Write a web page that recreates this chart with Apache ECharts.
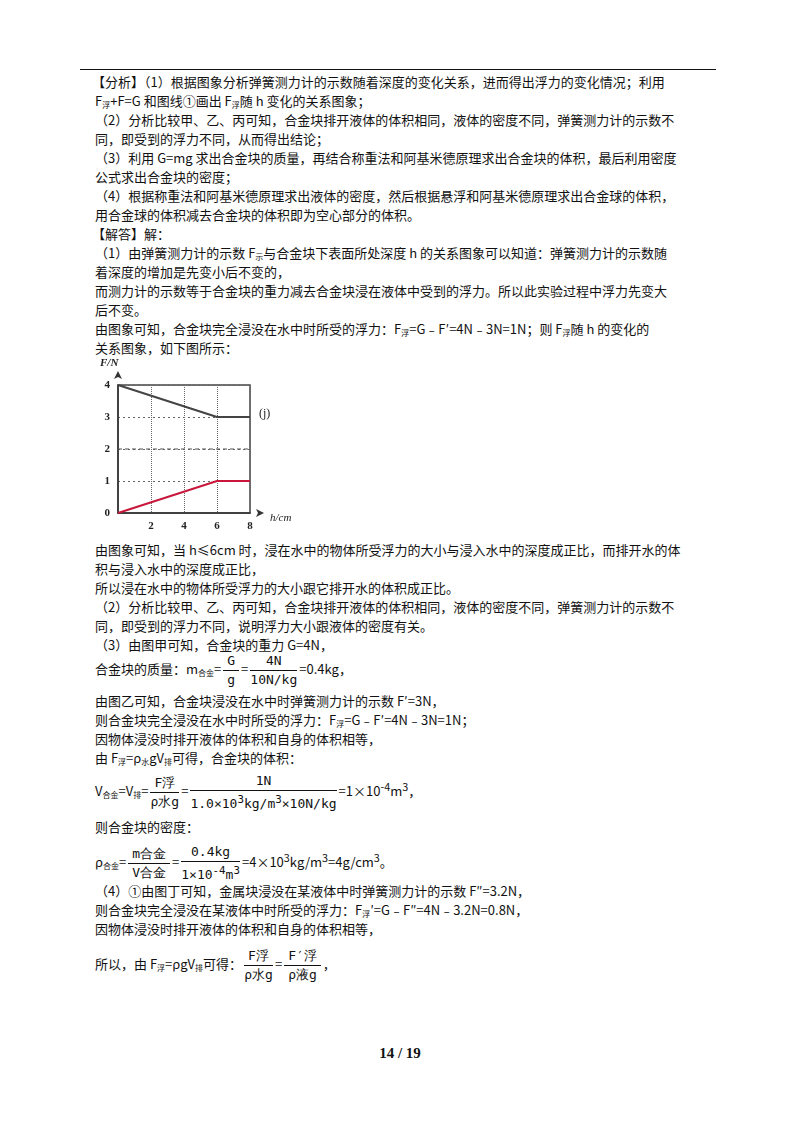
<!DOCTYPE html>
<html><head><meta charset="utf-8">
<script src="https://cdn.jsdelivr.net/npm/echarts@6/dist/echarts.min.js"></script>
<style>
body{margin:0;background:#fff;width:800px;height:1132px;position:relative;font-family:"Noto Sans CJK SC","Liberation Serif",serif;color:#111;}
.l{position:absolute;left:95px;font-size:13px;line-height:19px;white-space:nowrap;}
sub{font-size:8px;vertical-align:-2px;}
.f{display:inline-block;vertical-align:middle;text-align:center;margin:0 2px;}
.f .n{display:block;border-bottom:1px solid #111;padding:0 4px;line-height:18px;}
.f .d{display:block;line-height:18px;}
.mono{font-family:"DejaVu Sans Mono","Liberation Mono",monospace;font-size:13px;}
</style></head><body>
<div style="position:absolute;left:80px;top:69px;width:636px;border-top:1.5px solid #111"></div>
<div class="l" style="top:72px;left:92px">【分析】（1）根据图象分析弹簧测力计的示数随着深度的变化关系，进而得出浮力的变化情况；利用</div>
<div class="l" style="top:91px">F<sub>浮</sub>+F=G 和图线①画出 F<sub>浮</sub>随 h 变化的关系图象；</div>
<div class="l" style="top:110px">（2）分析比较甲、乙、丙可知，合金块排开液体的体积相同，液体的密度不同，弹簧测力计的示数不</div>
<div class="l" style="top:129px">同，即受到的浮力不同，从而得出结论；</div>
<div class="l" style="top:148px">（3）利用 G=mg 求出合金块的质量，再结合称重法和阿基米德原理求出合金块的体积，最后利用密度</div>
<div class="l" style="top:167px">公式求出合金块的密度；</div>
<div class="l" style="top:186px">（4）根据称重法和阿基米德原理求出液体的密度，然后根据悬浮和阿基米德原理求出合金球的体积，</div>
<div class="l" style="top:205px">用合金球的体积减去合金块的体积即为空心部分的体积。</div>
<div class="l" style="top:224px;left:92px">【解答】解：</div>
<div class="l" style="top:243px">（1）由弹簧测力计的示数 F<sub>示</sub>与合金块下表面所处深度 h 的关系图象可以知道：弹簧测力计的示数随</div>
<div class="l" style="top:262px">着深度的增加是先变小后不变的，</div>
<div class="l" style="top:281px">而测力计的示数等于合金块的重力减去合金块浸在液体中受到的浮力。所以此实验过程中浮力先变大</div>
<div class="l" style="top:300px">后不变。</div>
<div class="l" style="top:319px">由图象可知，合金块完全浸没在水中时所受的浮力：F<sub>浮</sub>=G﹣F′=4N﹣3N=1N；则 F<sub>浮</sub>随 h 的变化的</div>
<div class="l" style="top:338px">关系图象，如下图所示：</div>
<div id="c" style="position:absolute;left:95px;top:350px;width:215px;height:185px"></div>
<div class="l" style="top:540px">由图象可知，当 h≤6cm 时，浸在水中的物体所受浮力的大小与浸入水中的深度成正比，而排开水的体</div>
<div class="l" style="top:559px">积与浸入水中的深度成正比，</div>
<div class="l" style="top:578px">所以浸在水中的物体所受浮力的大小跟它排开水的体积成正比。</div>
<div class="l" style="top:597px">（2）分析比较甲、乙、丙可知，合金块排开液体的体积相同，液体的密度不同，弹簧测力计的示数不</div>
<div class="l" style="top:616px">同，即受到的浮力不同，说明浮力大小跟液体的密度有关。</div>
<div class="l" style="top:635px">（3）由图甲可知，合金块的重力 G=4N，</div>
<div class="l" style="top:652px">合金块的质量：m<sub>合金</sub>=<span class="f mono"><span class="n">G</span><span class="d">g</span></span>=<span class="f mono"><span class="n">4N</span><span class="d">10N/kg</span></span>=0.4kg，</div>
<div class="l" style="top:691px">由图乙可知，合金块浸没在水中时弹簧测力计的示数 F′=3N，</div>
<div class="l" style="top:710px">则合金块完全浸没在水中时所受的浮力：F<sub>浮</sub>=G﹣F′=4N﹣3N=1N；</div>
<div class="l" style="top:729px">因物体浸没时排开液体的体积和自身的体积相等，</div>
<div class="l" style="top:748px">由 F<sub>浮</sub>=ρ<sub>水</sub>gV<sub>排</sub>可得，合金块的体积：</div>
<div class="l" style="top:772px">V<sub>合金</sub>=V<sub>排</sub>=<span class="f mono"><span class="n">F浮</span><span class="d">ρ水g</span></span>=<span class="f mono"><span class="n">1N</span><span class="d">1.0×10<sup>3</sup>kg/m<sup>3</sup>×10N/kg</span></span>=1×10<sup>-4</sup>m<sup>3</sup>，</div>
<div class="l" style="top:817px">则合金块的密度：</div>
<div class="l" style="top:843px">ρ<sub>合金</sub>=<span class="f mono"><span class="n">m合金</span><span class="d">V合金</span></span>=<span class="f mono"><span class="n">0.4kg</span><span class="d">1×10<sup>-4</sup>m<sup>3</sup></span></span>=4×10<sup>3</sup>kg/m<sup>3</sup>=4g/cm<sup>3</sup>。</div>
<div class="l" style="top:881px">（4）①由图丁可知，金属块浸没在某液体中时弹簧测力计的示数 F″=3.2N，</div>
<div class="l" style="top:900px">则合金块完全浸没在某液体中时所受的浮力：F<sub>浮</sub>′=G﹣F″=4N﹣3.2N=0.8N，</div>
<div class="l" style="top:919px">因物体浸没时排开液体的体积和自身的体积相等，</div>
<div class="l" style="top:947px">所以，由 F<sub>浮</sub>=ρgV<sub>排</sub>可得：<span class="f mono"><span class="n">F浮</span><span class="d">ρ水g</span></span>=<span class="f mono"><span class="n">F′浮</span><span class="d">ρ液g</span></span>，</div>
<div style="position:absolute;top:1045px;left:0;width:800px;text-align:center;font:bold 15px 'Liberation Serif',serif">14 / 19</div>
<script>
const depth=[0,6,8];
const spring=[4,3,3];
const buoy=[0,1,1];
const xTicks=[0,2,4,6,8];
const yTicks=[0,1,2,3,4];
const ch=echarts.init(document.getElementById('c'));
const ser=(d,c)=>({type:'line',data:depth.map((x,i)=>[x,d[i]]),symbol:'none',lineStyle:{color:c,width:2},z:5});
ch.setOption({animation:false,
grid:{left:23,top:35,right:60,bottom:22,show:true,borderColor:'#444',borderWidth:1.5},
xAxis:{type:'value',min:0,max:8,interval:2,axisLine:{lineStyle:{color:'#333',width:1.5},symbol:['none','arrow'],symbolSize:[6,8],symbolOffset:[0,14]},
 axisTick:{show:false},axisLabel:{color:'#222',fontWeight:'bold',fontFamily:'Liberation Serif',fontSize:11,formatter:v=>v==0?'':v},
 splitLine:{lineStyle:{type:'dotted',color:'#666'}}},
yAxis:{type:'value',min:0,max:4,interval:1,axisLine:{show:true,lineStyle:{color:'#333',width:1.5},symbol:['none','arrow'],symbolSize:[6,8],symbolOffset:[0,14]},
 axisTick:{show:false},axisLabel:{color:'#222',fontWeight:'bold',fontFamily:'Liberation Serif',fontSize:11,margin:8},
 splitLine:{lineStyle:{type:[2,3],color:'#666'}}},
series:[ser(spring,'#444'),ser(buoy,'#c8173a'),
 {type:'line',data:[[0,2],[8,2]],symbol:'none',lineStyle:{color:'#555',type:[4,3],width:1.2},silent:true}],
graphic:[
 {type:'text',left:5,top:8,style:{text:'F/N',font:'bold italic 11px Liberation Serif',fill:'#222'}},
 {type:'text',left:175,top:163,style:{text:'h/cm',font:'italic 11px Liberation Serif',fill:'#222'}},
 {type:'text',left:164,top:58,style:{text:'(j)',font:'12px Liberation Serif',fill:'#222'}}
]});
</script>
</body></html>
